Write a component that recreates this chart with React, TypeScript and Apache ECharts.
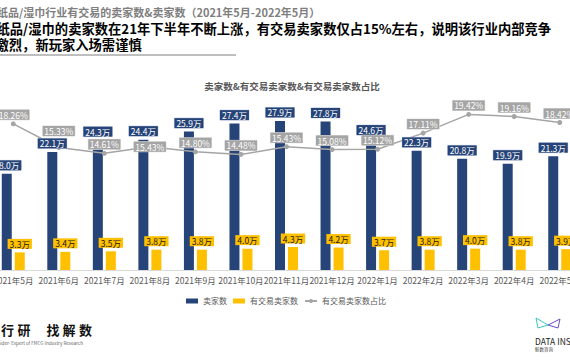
import React, { useEffect, useRef } from "react";
import * as echarts from "echarts";

const categories = [
  "2021年5月", "2021年6月", "2021年7月", "2021年8月", "2021年9月", "2021年10月",
  "2021年11月", "2021年12月", "2022年1月", "2022年2月", "2022年3月", "2022年4月", "2022年5月",
];
const sellers = [18.0, 22.1, 24.3, 24.4, 25.9, 27.4, 27.9, 27.8, 24.6, 22.3, 20.8, 19.9, 21.3];
const activeSellers = [3.3, 3.4, 3.5, 3.8, 3.8, 4.0, 4.3, 4.2, 3.7, 3.8, 4.0, 3.8, 3.9];
const activeRatio = [18.26, 15.33, 14.61, 15.43, 14.8, 14.48, 15.43, 15.08, 15.12, 17.11, 19.42, 19.16, 18.42];

const seriesNames = ["卖家数", "有交易卖家数", "有交易卖家数占比"];
const chartTitle = "卖家数&有交易卖家数&有交易卖家数占比";
const heading1 = "纸品/湿巾行业有交易的卖家数&卖家数（2021年5月-2022年5月）";
const heading2 = "纸品/湿巾的卖家数在21年下半年不断上涨，有交易卖家数仅占15%左右，说明该行业内部竞争";
const heading3 = "激烈，新玩家入场需谨慎";
const footerChars = ["行", "研", "找", "解", "数"];
const footerSub = "Insider- Expert of FMCG Industry Research";

const FONT = '"Noto Sans CJK SC", "Noto Sans", sans-serif';
const NAVY = "#264478";
const YELLOW = "#FFC000";
const GRAY = "#A5A5A5";
const SHIFT = 10; // the chart container starts 10px left of the page

export default function App() {
  const ref = useRef<HTMLDivElement>(null);
  useEffect(() => {
    if (!ref.current) return;
    const chart = echarts.init(ref.current, undefined, { renderer: "svg" });
    const X = (v: number) => v + SHIFT;
    const footerX = [1, 17.5, 46.5, 62.5, 79];
    const graphic: any[] = [
      { type: "text", x: X(-3), y: 12, style: { text: heading1, fontSize: 11, lineHeight: 12, fontWeight: "bold", fontFamily: FONT, fill: "#7F7F7F", verticalAlign: "middle" } },
      { type: "text", x: X(-3.5), y: 28.5, style: { text: heading2, fontSize: 13.3, lineHeight: 14, fontWeight: "bold", fontFamily: FONT, fill: "#000", verticalAlign: "middle" } },
      { type: "text", x: X(-4.5), y: 44, style: { text: heading3, fontSize: 13.3, lineHeight: 14, fontWeight: "bold", fontFamily: FONT, fill: "#000", verticalAlign: "middle" } },
      { type: "line", shape: { x1: X(0), y1: 55, x2: X(236), y2: 55 }, style: { stroke: "#7F7F7F", lineWidth: 1 } },
      ...footerChars.map((c, i) => ({
        type: "text", x: X(footerX[i]), y: 329,
        style: { text: c, fontSize: 13, fontWeight: "bold", fontFamily: FONT, fill: "#111", verticalAlign: "middle" },
      })),
      { type: "text", x: X(-6), y: 343, style: { text: footerSub, fontSize: 4.6, fontFamily: FONT, fill: "#666", verticalAlign: "middle" } },
      { type: "polyline", shape: { points: [[X(536), 318], [X(548), 325], [X(538), 328], [X(536), 318]] }, style: { stroke: "#3CC6C2", fill: "none", lineWidth: 1 } },
      { type: "polyline", shape: { points: [[X(548), 325], [X(560), 319], [X(558), 328], [X(548), 325]] }, style: { stroke: "#6A4FC8", fill: "none", lineWidth: 1 } },
      { type: "text", x: X(535), y: 340.5, style: { text: "DATA INSIGHT", fontSize: 8.5, fontFamily: FONT, fill: "#222", verticalAlign: "middle" } },
      { type: "text", x: X(535), y: 349, style: { text: "鲸数咨询", fontSize: 4.5, fontFamily: FONT, fill: "#444", verticalAlign: "middle" } },
    ];

    const ratioLabelData = activeRatio.map((v, i) => {
      if (i === 1) return { value: v, label: { distance: 9 } };
      if (i === 3) return { value: v, label: { position: "inside" } };
      return v;
    });

    const boxLabel = (bg: string, color: string, dx: number, distance: number, unit: (v: number) => string, border?: string) => ({
      show: true,
      position: "top",
      distance,
      offset: [dx, 0],
      formatter: (p: any) => unit(Number(p.value)),
      color,
      fontSize: 8.5,
      lineHeight: 9,
      backgroundColor: bg,
      padding: [0.5, 2],
      borderColor: border || bg,
      borderWidth: border ? 0.5 : 0,
    });
    const wan = (v: number) => `${v.toFixed(1)}万`;
    const pct = (v: number) => `${v.toFixed(2)}%`;
    const labelSeries = (name: string, data: any[], yAxisIndex: number, label: any, size: number) => ({
      name,
      type: "scatter",
      yAxisIndex,
      data,
      symbolSize: size,
      itemStyle: { color: "rgba(0,0,0,0)", opacity: 1 },
      emphasis: { disabled: true },
      silent: true,
      z: 5,
      label,
    });

    chart.setOption({
      animation: false,
      textStyle: { fontFamily: FONT },
      title: {
        text: chartTitle,
        left: X(287),
        textAlign: "center",
        top: 76,
        textStyle: { fontSize: 9.5, fontWeight: "bold", color: "#595959", fontFamily: FONT },
      },
      legend: {
        left: X(181),
        top: 292,
        itemWidth: 12,
        itemHeight: 5,
        itemGap: 6,
        textStyle: { fontSize: 8, color: "#595959", fontFamily: FONT },
        data: [
          { name: seriesNames[0], icon: "rect" },
          { name: seriesNames[1], icon: "rect" },
          { name: seriesNames[2] },
        ],
      },
      grid: { left: 0, right: 0, top: 83, bottom: 90, containLabel: false },
      xAxis: {
        type: "category",
        data: categories,
        axisLine: { lineStyle: { color: "#D9D9D9" } },
        axisTick: { length: 4, lineStyle: { color: "#D9D9D9" } },
        axisLabel: { fontSize: 8.5, color: "#595959", margin: 6, interval: 0 },
      },
      yAxis: [
        { type: "value", min: 0, max: 35, show: false },
        { type: "value", min: 0.2, max: 23.3, show: false },
      ],
      graphic,
      series: [
        {
          name: seriesNames[0],
          type: "bar",
          data: sellers,
          barWidth: 10,
          barGap: "30%",
          z: 2,
          itemStyle: { color: NAVY },
        },
        {
          name: seriesNames[1],
          type: "bar",
          data: activeSellers,
          barWidth: 10,
          barGap: "30%",
          z: 2,
          itemStyle: { color: YELLOW },
        },
        {
          name: seriesNames[2],
          type: "line",
          yAxisIndex: 1,
          data: activeRatio,
          symbol: "circle",
          symbolSize: 5,
          z: 3,
          lineStyle: { color: GRAY, width: 1.5 },
          itemStyle: { color: GRAY },
        },
        labelSeries("sellersLabel", sellers, 0, boxLabel(NAVY, "#fff", -6.5, 3, wan, "#C9D3E6"), 1),
        labelSeries("activeLabel", activeSellers, 0, boxLabel(YELLOW, "#1a1a1a", 6.5, 3, wan), 1),
        labelSeries("ratioLabel", ratioLabelData, 1, { ...boxLabel(GRAY, "#fff", 0, 1.5, pct, "#D9D9D9"), padding: [0.5, 1.5] }, 5),
      ],
    });
    return () => chart.dispose();
  }, []);
  return (
    <div
      ref={ref}
      style={{ position: "fixed", left: -SHIFT, top: 0, width: 570 + SHIFT + 13, height: 360, background: "#fff" }}
    />
  );
}
